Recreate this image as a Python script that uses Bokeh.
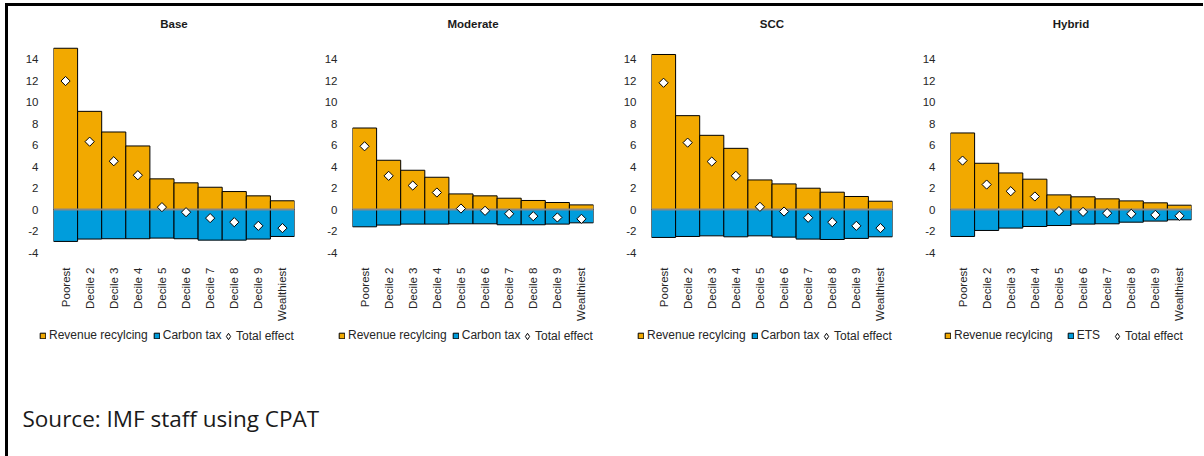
import math
from bokeh.plotting import figure
from bokeh.models import FactorRange, Legend, LegendItem, Label, Range1d, FixedTicker
from bokeh.layouts import row, column
from bokeh.embed import file_html
from bokeh.resources import INLINE

categories = ["Poorest", "Decile 2", "Decile 3", "Decile 4", "Decile 5",
              "Decile 6", "Decile 7", "Decile 8", "Decile 9", "Wealthiest"]

titles = ["Base", "Moderate", "SCC", "Hybrid"]
tax_labels = ["Carbon tax", "Carbon tax", "Carbon tax", "ETS"]

base_recycling = [15.0, 9.13, 7.21, 5.91, 2.85, 2.48, 2.07, 1.67, 1.27, 0.81]
base_tax = [-2.97, -2.75, -2.72, -2.72, -2.66, -2.72, -2.85, -2.85, -2.75, -2.51]
base_total = [11.95, 6.31, 4.49, 3.19, 0.22, -0.25, -0.80, -1.18, -1.52, -1.73]

moderate_recycling = [7.58, 4.58, 3.65, 3.00, 1.45, 1.27, 1.05, 0.84, 0.65, 0.43]
moderate_tax = [-1.61, -1.45, -1.36, -1.36, -1.33, -1.33, -1.42, -1.42, -1.36, -1.24]
moderate_total = [5.88, 3.13, 2.23, 1.58, 0.09, -0.12, -0.40, -0.62, -0.74, -0.87]

scc_recycling = [14.42, 8.73, 6.90, 5.69, 2.75, 2.38, 1.98, 1.61, 1.21, 0.77]
scc_tax = [-2.60, -2.51, -2.45, -2.54, -2.45, -2.57, -2.75, -2.79, -2.69, -2.54]
scc_total = [11.79, 6.22, 4.46, 3.13, 0.25, -0.19, -0.77, -1.18, -1.52, -1.73]

hybrid_recycling = [7.12, 4.30, 3.40, 2.82, 1.36, 1.18, 0.99, 0.80, 0.62, 0.40]
hybrid_tax = [-2.51, -1.95, -1.73, -1.58, -1.49, -1.36, -1.33, -1.18, -1.08, -0.96]
hybrid_total = [4.55, 2.32, 1.70, 1.21, -0.15, -0.22, -0.34, -0.40, -0.50, -0.59]

y_ticks = [-4, -2, 0, 2, 4, 6, 8, 10, 12, 14]

series = [
    (base_recycling, base_tax, base_total),
    (moderate_recycling, moderate_tax, moderate_total),
    (scc_recycling, scc_tax, scc_total),
    (hybrid_recycling, hybrid_tax, hybrid_total),
]

ORANGE = "#F2A900"
BLUE = "#009DDC"
FONT = "Liberation Sans"
TXT = "#262626"


def draw_series(fig, rec, tax, tot, marker="square", angle=math.pi / 4):
    a = fig.vbar(x=categories, top=rec, bottom=0, width=1.0,
                 fill_color=ORANGE, line_color="black", line_width=1)
    b = fig.vbar(x=categories, top=0, bottom=tax, width=1.0,
                 fill_color=BLUE, line_color="black", line_width=1)
    fig.hspan(y=[0], line_color="#878787", line_width=2)
    c = fig.scatter(x=categories, y=tot, marker=marker, angle=angle,
                    size=6.5, fill_color="white", line_color="black", line_width=1)
    return a, b, c


panels = []
legend_figs = []
for i, (rec, tax, tot) in enumerate(series):
    last = i == 3
    rb = 12 if last else 13
    p = figure(x_range=FactorRange(*categories), y_range=Range1d(-4, 16),
               frame_width=241, frame_height=215,
               min_border_left=45, min_border_right=rb,
               min_border_top=31, min_border_bottom=70,
               output_backend="svg", toolbar_location=None,
               background_fill_color="white", border_fill_color="white",
               outline_line_color=None)
    p.title.text = titles[i]
    p.title.align = "center"
    p.title.text_font = FONT
    p.title.text_font_size = "11.5px"
    p.title.text_font_style = "bold"
    p.title.text_color = "#1a1a1a"
    p.title.standoff = 16

    draw_series(p, rec, tax, tot)

    p.grid.visible = False
    p.yaxis.ticker = FixedTicker(ticks=y_ticks)
    p.yaxis.major_label_overrides = {t: str(t) for t in y_ticks}
    for ax in (p.xaxis[0], p.yaxis[0]):
        ax.axis_line_color = None
        ax.major_tick_line_color = None
        ax.minor_tick_line_color = None
        ax.major_label_text_font = FONT
        ax.major_label_text_font_size = "11.5px"
        ax.major_label_text_color = TXT
    p.yaxis.major_label_standoff = 9
    p.xaxis.major_label_standoff = 9
    p.xaxis.major_label_orientation = math.pi / 2
    panels.append(p)

    # legend strip: same series, drawn outside its (empty) visible window,
    # used only so the legend can show its swatches
    lf = figure(width=45 + 241 + rb, height=30,
                x_range=FactorRange(*categories), y_range=Range1d(1000, 1001),
                min_border=0, output_backend="svg", toolbar_location=None,
                outline_line_color=None)
    lf.axis.visible = False
    lf.grid.visible = False
    s1, s2, s3 = draw_series(lf, rec, tax, tot, marker="diamond", angle=0)
    ax0 = 39 if last else 31
    bx0 = 204 if last else 212
    legA = Legend(items=[LegendItem(label="Revenue recylcing", renderers=[s1]),
                         LegendItem(label=tax_labels[i], renderers=[s2])],
                  orientation="horizontal", location=(ax0, 11),
                  padding=0, margin=0, spacing=14 if last else 5, label_standoff=3,
                  glyph_width=7, glyph_height=7, label_height=12,
                  label_text_font=FONT, label_text_font_size="12px",
                  label_text_color=TXT, border_line_color=None,
                  background_fill_alpha=0)
    legB = Legend(items=[LegendItem(label="Total effect", renderers=[s3])],
                  orientation="horizontal", location=(bx0, 9),
                  padding=0, margin=0, spacing=0, label_standoff=-4 if last else -3,
                  glyph_width=16, glyph_height=16, label_height=12,
                  label_text_font=FONT, label_text_font_size="12px",
                  label_text_color=TXT, border_line_color=None,
                  background_fill_alpha=0)
    lf.add_layout(legA, "center")
    lf.add_layout(legB, "center")
    legend_figs.append(lf)

src = figure(width=1195, height=103, x_range=Range1d(0, 1), y_range=Range1d(0, 1),
             min_border=0, output_backend="svg", toolbar_location=None,
             outline_line_color=None)
src.axis.visible = False
src.grid.visible = False
src.add_layout(Label(x=14, y=38, x_units="screen", y_units="screen",
                     text="Source: IMF staff using CPAT", text_font="Open Sans",
                     text_font_size="22.5px", text_color="#1a1a1a",
                     text_baseline="alphabetic"))

layout = column(row(*panels), row(*legend_figs), src,
                styles={"margin-left": "5px", "margin-top": "3px",
                        "border-left": "3px solid black",
                        "border-top": "3px solid black"})

open("out.html", "w").write(file_html(layout, INLINE))
